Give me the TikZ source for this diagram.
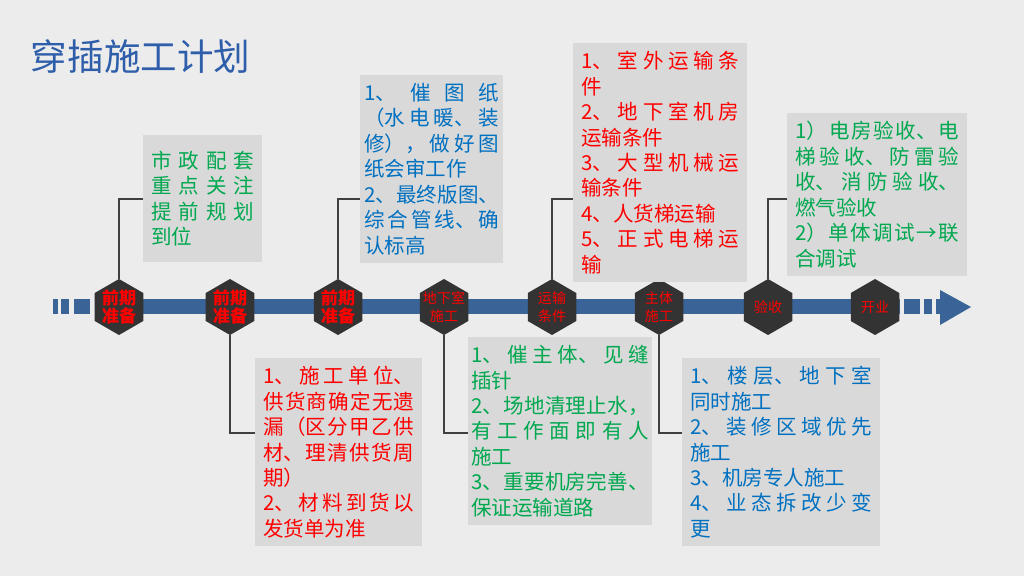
\documentclass[tikz,border=0pt]{standalone}
\usepackage{fontspec}
\setmainfont{Noto Sans CJK SC}
\usetikzlibrary{shapes.geometric,calc}
\definecolor{paper}{HTML}{ECECEC}
\definecolor{timeline}{HTML}{3A6497}
\definecolor{hexdark}{HTML}{333333}
\definecolor{boxgray}{HTML}{D9D9D9}
\definecolor{linkgray}{HTML}{404040}
\definecolor{titleblue}{HTML}{2E5DAA}
\definecolor{txtred}{HTML}{FF0000}
\definecolor{txtgreen}{HTML}{00A84F}
\definecolor{txtblue}{HTML}{0070C0}
\XeTeXlinebreaklocale "zh"
\XeTeXlinebreakskip=0pt plus 1pt
\setlength{\parindent}{0pt}
\tolerance=10000
\hbadness=10000

\begin{document}
\begin{tikzpicture}[x=0.025cm,y=-0.025cm,
  infobox/.style={fill=boxgray, anchor=north west, align=justify, inner xsep=0.2cm, inner ysep=0.2cm,
    font=\fontsize{14.6}{18.1}\selectfont},
  hexcell/.style={regular polygon, regular polygon sides=6, shape border rotate=30, minimum size=1.4cm,
    inner sep=0pt, fill=hexdark},
  hexbig/.style={text=txtred, align=center, font=\fontsize{12.2}{12.2}\selectfont\bfseries},
  hexsmall/.style={text=txtred, align=center, font=\fontsize{10}{13.2}\selectfont},
  link/.style={draw=linkgray, line width=1pt}]
  \useasboundingbox (0,0) rectangle (1024,576);
  \fill[paper] (0,0) rectangle (1024,576);
  \node[titleblue, font=\fontsize{26}{30}\selectfont, anchor=west] (title) at (26,57) {穿插施工计划};
  % time line
  \fill[timeline] (119,299) rectangle (900,314);
  \foreach \a/\b in {53/58, 61/69, 74/90, 904/920, 924/932, 936/941}
    \fill[timeline] (\a,299) rectangle (\b,314);
  \fill[timeline] (940,290) -- (971,307) -- (940,325) -- cycle;
  \foreach \n/\x/\txt/\st in {1/119/{前期\\准备}/hexbig, 2/230/{前期\\准备}/hexbig, 3/338/{前期\\准备}/hexbig,
      4/444/{地下室\\施工}/hexsmall, 5/552/{运输\\条件}/hexsmall, 6/659/{主体\\施工}/hexsmall,
      7/768/{验收}/hexsmall, 8/875/{开业}/hexsmall}
    \node[hexcell, label={[\st]center:\txt}] (h\n) at (\x,307) {};
  % boxes above
  \node[infobox, text=txtgreen, text width=2.575cm, minimum height=3.175cm] (boxA) at (143,135) {市政配套\linebreak 重点关注\linebreak 提前规划\linebreak 到位};
  \node[infobox, text=txtblue, text width=3.375cm, inner xsep=0.1cm] (boxB) at (360,75) {1、催图纸\linebreak （水电暖、装\linebreak 修），做好图\linebreak 纸会审工作\\2、最终版图、\linebreak 综合管线、确\linebreak 认标高};
  \node[infobox, text=txtred, text width=3.95cm] (boxC) at (573,43) {1、室外运输条\linebreak 件\\2、地下室机房\linebreak 运输条件\\3、大型机械运\linebreak 输条件\\4、人货梯运输\\5、正式电梯运\linebreak 输};
  \node[infobox, text=txtgreen, text width=4.1cm] (boxD) at (787,113) {1）电房验收、电\linebreak 梯验收、防雷验\linebreak 收、消防验收、\linebreak 燃气验收\\2）单体调试→联\linebreak 合调试};
  % boxes below
  \node[infobox, text=txtred, text width=3.775cm] (boxE) at (255,358) {1、施工单位、\linebreak 供货商确定无遗\linebreak 漏（区分甲乙供\linebreak 材、理清供货周\linebreak 期）\\2、材料到货以\linebreak 发货单为准};
  \node[infobox, text=txtgreen, text width=4.44cm, inner xsep=0.07cm] (boxF) at (468,337) {1、催主体、见缝\linebreak 插针\\2、场地清理止水，\linebreak 有工作面即有人\linebreak 施工\\3、重要机房完善、\linebreak 保证运输道路};
  \node[infobox, text=txtblue, text width=4.55cm] (boxG) at (682,358) {1、楼层、地下室\linebreak 同时施工\\2、装修区域优先\linebreak 施工\\3、机房专人施工\\4、业态拆改少变\linebreak 更};
  % connectors
  \coordinate (uplvl) at (0,199);
  \coordinate (dnlvl) at (0,433);
  \draw[link] (h1.90) |- (boxA.west |- uplvl);
  \draw[link] (h3.90) |- (boxB.west |- uplvl);
  \draw[link] (h5.90) |- (boxC.west |- uplvl);
  \draw[link] (h7.90) |- (boxD.west |- uplvl);
  \draw[link] (h2.270) |- (boxE.west |- dnlvl);
  \draw[link] (h4.270) |- (boxF.west |- dnlvl);
  \draw[link] (h6.270) |- (boxG.west |- dnlvl);
\end{tikzpicture}
\end{document}
